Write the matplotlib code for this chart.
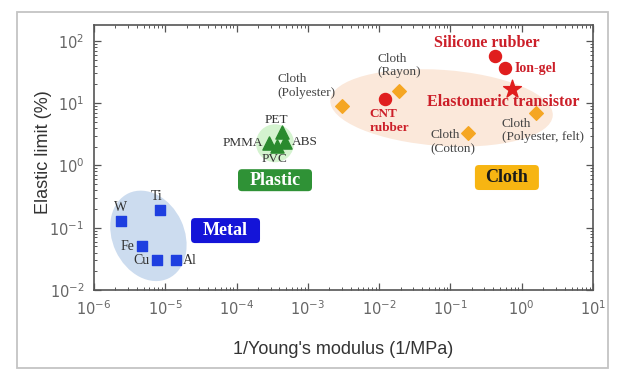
import matplotlib
matplotlib.use("Agg")
import matplotlib.pyplot as plt
from matplotlib.patches import Ellipse, FancyBboxPatch, Rectangle
from matplotlib.transforms import ScaledTranslation

plt.rcParams['mathtext.fontset'] = 'custom'
plt.rcParams['mathtext.rm'] = 'Liberation Sans'
plt.rcParams['mathtext.it'] = 'Liberation Sans:italic'

# ---- data (1/Young's modulus [1/MPa], elastic limit [%]) ----
metal_names = ['W', 'Ti', 'Fe', 'Cu', 'Al']
metal_x = [2.4e-6, 8.4e-6, 4.7e-6, 7.6e-6, 1.4e-5]
metal_y = [0.13, 0.19, 0.05, 0.03, 0.03]

plastic_names = ['PET', 'PMMA', 'PVC', 'ABS']
plastic_x = [4.4e-4, 2.85e-4, 3.65e-4, 4.8e-4]
plastic_y = [3.5, 2.3, 2.05, 2.36]

cloth_names = ['Cloth\n(Polyester)', 'Cloth\n(Rayon)', 'Cloth\n(Cotton)',
               'Cloth\n(Polyester, felt)']
cloth_x = [3.0e-3, 0.019, 0.178, 1.57]
cloth_y = [9.0, 15.9, 3.3, 6.9]

rubber_names = ['CNT\nrubber', 'Silicone rubber', 'Ion-gel']
rubber_x = [0.012, 0.42, 0.59]
rubber_y = [11.7, 57.0, 37.0]

transistor_name = 'Elastomeric transistor'
transistor_x = [0.74]
transistor_y = [17.0]

# ---- figure ----
fig = plt.figure(figsize=(6.2, 3.78), dpi=100)
ax = fig.add_axes([94 / 620, 1 - 290 / 378, 499 / 620, 265 / 378])
ax.set_xscale('log')
ax.set_yscale('log')
ax.set_xlim(1e-6, 1e1)
ax.set_ylim(1e-2, 180)

fig.add_artist(Rectangle((17 / 620, 1 - 368 / 378), 591 / 620, 356 / 378,
                         transform=fig.transFigure, fill=False,
                         ec='#c4c4c4', lw=1.3))


def px_patch(x, y):
    # sizes in inches (100 px), centred on a data point
    return fig.dpi_scale_trans + ScaledTranslation(x, y, ax.transData)


def blob(x, y, w, h, angle, color):
    ax.add_patch(Ellipse((0, 0), w / 100, h / 100, angle=angle, fc=color,
                         ec='none', transform=px_patch(x, y), zorder=1))


def tag(x, y, w, h, color, text, tcolor):
    ax.add_patch(FancyBboxPatch((-w / 200, -h / 200), w / 100, h / 100,
                                boxstyle='round,pad=0,rounding_size=0.04',
                                fc=color, ec='none', transform=px_patch(x, y),
                                zorder=2))
    ax.text(x, y, text, ha='center', va='center', fontsize=13,
            fontweight='bold', family='Liberation Serif', color=tcolor,
            zorder=3)


blob(5.8e-6, 0.074, 72, 94, 25, '#ccdcef')
blob(3.46e-4, 2.27, 38, 38, 0, '#d4f3cf')
blob(0.075, 8.4, 223, 76, -4, '#fbe8da')

ax.scatter(metal_x, metal_y, marker='s', s=50, c='#1e3fe0', zorder=4)
ax.scatter(plastic_x, plastic_y, marker='^', s=90, c='#2a8a2e', zorder=4)
ax.scatter(cloth_x, cloth_y, marker='D', s=48, c='#f5a623', zorder=4)
ax.scatter(rubber_x, rubber_y, marker='o', s=75, c='#e01e1e', zorder=4)
ax.scatter(transistor_x, transistor_y, marker='*', s=180, c='#e01e1e',
           zorder=4)

k = 0.72  # px -> points


def lab(name, x, y, dx, dy, ha, color='#333333', size=9, weight='normal'):
    ax.annotate(name, (x, y), xytext=(dx * k, dy * k),
                textcoords='offset points', ha=ha, va='center',
                fontsize=size, fontweight=weight, color=color,
                family='Liberation Serif', linespacing=1.15, zorder=5)


metal_off = [(-1, 13, 'center'), (-3, 14, 'center'), (-8, 0, 'right'),
             (-7, 0, 'right'), (7, 0, 'left')]
for n, x, y, (dx, dy, ha) in zip(metal_names, metal_x, metal_y, metal_off):
    lab(n, x, y, dx, dy, ha, size=10)

plastic_off = [(-6, 12, 'center'), (-6, 0, 'right'), (-2, -13, 'center'),
               (7, 0, 'left')]
for n, x, y, (dx, dy, ha) in zip(plastic_names, plastic_x, plastic_y,
                                 plastic_off):
    lab(n, x, y, dx, dy, ha, size=9.5)

cloth_off = [(-64, 20), (-22, 25), (-38, -9), (-34, -17)]
for n, x, y, (dx, dy) in zip(cloth_names, cloth_x, cloth_y, cloth_off):
    lab(n, x, y, dx, dy, 'left', color='#444444', size=9.5)

red = '#cc1f29'
rubber_off = [(-15, -22, 'left', 9.5), (-8, 13, 'center', 11.5),
              (9, -1, 'left', 10)]
for n, x, y, (dx, dy, ha, fs) in zip(rubber_names, rubber_x, rubber_y,
                                     rubber_off):
    lab(n, x, y, dx, dy, ha, color=red, size=fs, weight='bold')
lab(transistor_name, transistor_x[0], transistor_y[0], -9, -13, 'center',
    color=red, size=11.5, weight='bold')

tag(7.0e-5, 0.090, 69, 25, '#1414d8', 'Metal', 'white')
tag(3.46e-4, 0.58, 74, 22, '#2f9236', 'Plastic', 'white')
tag(0.62, 0.64, 64, 25, '#f7b512', 'Cloth', '#1a1a1a')

# ---- axes styling ----
for s in ax.spines.values():
    s.set_color('#555555')
    s.set_linewidth(1.2)
ax.tick_params(which='both', direction='in', top=True, right=True,
               colors='#555555', labelcolor='#666666')
ax.tick_params(which='major', length=5, width=0.9, labelsize=10.5, pad=7)
ax.tick_params(which='minor', length=2.5, width=0.7)
ax.set_xticks([10.0 ** p for p in range(-6, 2)])
ax.set_yticks([10.0 ** p for p in range(-2, 3)])

ax.set_xlabel("1/Young's modulus (1/MPa)", fontsize=13,
              family='Liberation Sans', color='#333333')
ax.set_ylabel('Elastic limit (%)', fontsize=13, family='Liberation Sans',
              color='#333333')
ax.xaxis.set_label_coords(0.5, -60 / 265)
ax.xaxis.label.set_va('center')
ax.yaxis.set_label_coords(-51 / 499, 0.52)
ax.yaxis.label.set_va('center')

fig.savefig('out.png', dpi=100)
